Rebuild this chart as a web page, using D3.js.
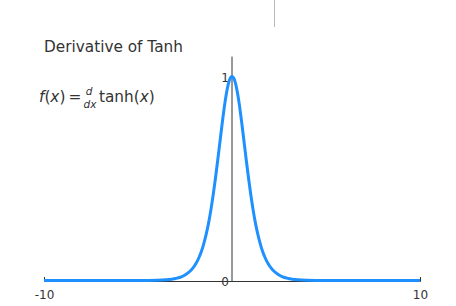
<!DOCTYPE html>
<html>
<head>
<meta charset="utf-8">
<script src="https://cdn.jsdelivr.net/npm/d3@7"></script>
<style>
  html, body { margin: 0; padding: 0; background: #fff; }
  svg { display: block; }
  text { font-family: "DejaVu Sans", sans-serif; fill: #333; }
</style>
</head>
<body>
<svg id="chart" width="456" height="306"></svg>
<script>
// Sampled points of d/dx tanh(x)
const xValues = [-10, -8, -6, -5, -4, -3.5, -3, -2.75, -2.5, -2.25, -2, -1.875, -1.75, -1.625,
  -1.5, -1.375, -1.25, -1.125, -1, -0.875, -0.75, -0.625, -0.5, -0.375, -0.25, -0.125, 0,
  0.125, 0.25, 0.375, 0.5, 0.625, 0.75, 0.875, 1, 1.125, 1.25, 1.375, 1.5, 1.625, 1.75,
  1.875, 2, 2.25, 2.5, 2.75, 3, 3.5, 4, 5, 6, 8, 10];
const yValues = [0, 0, 0.00002, 0.00018, 0.0013, 0.0037, 0.0099, 0.016, 0.027, 0.044, 0.071,
  0.090, 0.114, 0.143, 0.181, 0.226, 0.280, 0.345, 0.420, 0.505, 0.597, 0.692, 0.786, 0.872,
  0.940, 0.985, 1, 0.985, 0.940, 0.872, 0.786, 0.692, 0.597, 0.505, 0.420, 0.345, 0.280,
  0.226, 0.181, 0.143, 0.114, 0.090, 0.071, 0.044, 0.027, 0.016, 0.0099, 0.0037, 0.0013,
  0.00018, 0.00002, 0, 0];
const xTicks = [-10, 10];
const yTicks = [0, 1];
const titleText = "Derivative of Tanh";

const svg = d3.select("#chart");
const x = d3.scaleLinear().domain([-10, 10]).range([44, 420]);
const y = d3.scaleLinear().domain([0, 1.1]).range([281, 56.6]);
const tickFmt = d => String(d); // plain hyphen-minus

// small divider at the top
svg.append("line")
  .attr("x1", 274.5).attr("x2", 274.5).attr("y1", 0).attr("y2", 27)
  .attr("stroke", "#bbb").attr("stroke-width", 1);

// title
svg.append("text").attr("x", 44).attr("y", 52)
  .attr("font-size", 15.3).text(titleText);

// formula f(x) = d/dx tanh(x)
const f = svg.append("text").attr("x", 39).attr("y", 102).attr("font-size", 15.3);
f.append("tspan").attr("font-style", "italic").text("f");
f.append("tspan").text("(");
f.append("tspan").attr("font-style", "italic").text("x");
f.append("tspan").text(")\u2009=\u2009");
svg.append("text").attr("x", 89).attr("y", 95).attr("font-size", 10.5)
  .attr("font-style", "italic").attr("text-anchor", "middle").text("d");
svg.append("text").attr("x", 90).attr("y", 108).attr("font-size", 10.5)
  .attr("font-style", "italic").attr("text-anchor", "middle").text("dx");
const g = svg.append("text").attr("x", 99).attr("y", 102).attr("font-size", 15.3);
g.append("tspan").text("tanh(");
g.append("tspan").attr("font-style", "italic").text("x");
g.append("tspan").text(")");

// x axis
const xAxis = svg.append("g").attr("transform", `translate(0,${y(0)})`)
  .call(d3.axisTop(x).tickValues(xTicks).tickSize(4).tickFormat(tickFmt));
xAxis.select(".domain").attr("stroke", "#333");
xAxis.selectAll(".tick line").attr("stroke", "#333");
xAxis.selectAll(".tick text").attr("y", 9).attr("dy", "0.71em")
  .attr("font-size", 12).attr("font-family", "DejaVu Sans").attr("fill", "#333");

// y axis through x = 0
const yAxis = svg.append("g").attr("transform", `translate(${x(0)},0)`)
  .call(d3.axisRight(y).tickValues(yTicks).tickSize(3).tickFormat(tickFmt));
yAxis.select(".domain").attr("stroke", "#333").attr("d", `M0,${y(1.1)}V${y(0)}`);
yAxis.selectAll(".tick line").attr("stroke", "#333");
yAxis.selectAll(".tick text").attr("x", -3).attr("dy", "0.4em").attr("text-anchor", "end")
  .attr("font-size", 12).attr("font-family", "DejaVu Sans").attr("fill", "#333");

// curve
const pts = xValues.map((d, i) => [d, yValues[i]]);
svg.append("path").datum(pts)
  .attr("fill", "none").attr("stroke", "#1e90ff").attr("stroke-width", 3)
  .attr("d", d3.line().x(d => x(d[0])).y(d => y(d[1]) - 0.5).curve(d3.curveMonotoneX));
</script>
</body>
</html>
